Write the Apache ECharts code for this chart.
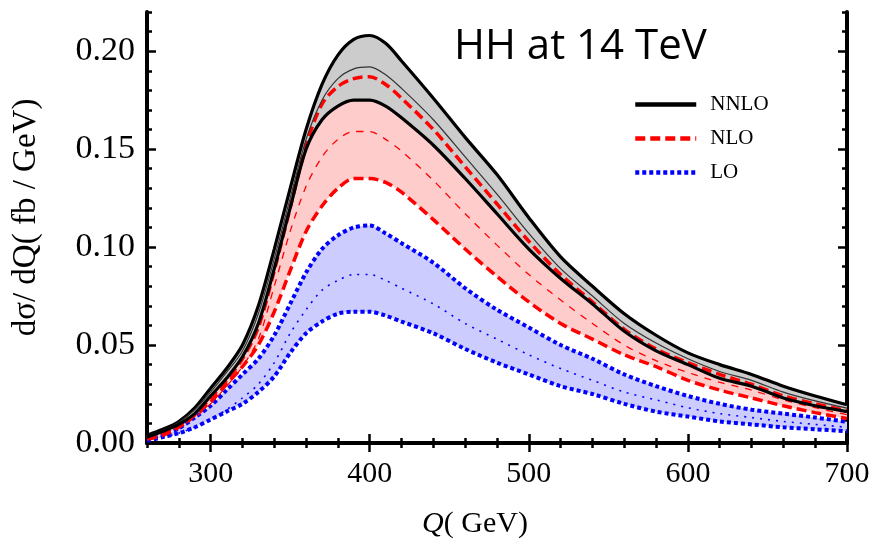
<!DOCTYPE html>
<html>
<head>
<meta charset="utf-8">
<script src="https://cdn.jsdelivr.net/npm/echarts@6/dist/echarts.min.js"></script>
<style>
  html, body { margin: 0; background: #fff; }
  #chart { width: 876px; height: 547px; }
</style>
</head>
<body>
<div id="chart"></div>
<script>
  // Q in GeV
  const qValues = [260, 270, 280, 290, 300, 310, 320, 330, 340, 350, 360, 370, 380, 390, 400, 410, 420,
    440, 460, 480, 500, 520, 540, 560, 580, 600, 620, 640, 660, 680, 700];

  // d sigma / dQ (fb/GeV)
  const nnloHi = [0.004, 0.007, 0.011, 0.018, 0.028, 0.038, 0.050, 0.070, 0.099, 0.130, 0.160, 0.183, 0.198, 0.206, 0.208, 0.204, 0.195,
    0.176, 0.156, 0.137, 0.115, 0.095, 0.080, 0.066, 0.055, 0.046, 0.040, 0.035, 0.029, 0.024, 0.0195];
  const nnloMid = [0.0035, 0.0065, 0.0105, 0.017, 0.026, 0.036, 0.047, 0.066, 0.094, 0.125, 0.155, 0.175, 0.186, 0.191, 0.192, 0.188, 0.181,
    0.165, 0.146, 0.127, 0.107, 0.089, 0.075, 0.061, 0.051, 0.043, 0.0365, 0.032, 0.026, 0.0215, 0.0178];
  const nnloLo = [0.003, 0.006, 0.0095, 0.015, 0.024, 0.033, 0.044, 0.061, 0.089, 0.120, 0.150, 0.165, 0.172, 0.175, 0.175, 0.172, 0.166,
    0.152, 0.135, 0.117, 0.099, 0.084, 0.071, 0.057, 0.047, 0.040, 0.033, 0.029, 0.023, 0.019, 0.016];

  const nloHi = [0.003, 0.0055, 0.009, 0.0145, 0.023, 0.032, 0.043, 0.059, 0.088, 0.120, 0.152, 0.173, 0.182, 0.186, 0.187, 0.183, 0.176,
    0.160, 0.141, 0.122, 0.103, 0.086, 0.072, 0.058, 0.048, 0.041, 0.035, 0.030, 0.024, 0.020, 0.0165];
  const nloMid = [0.0025, 0.005, 0.008, 0.013, 0.020, 0.029, 0.039, 0.053, 0.080, 0.108, 0.131, 0.146, 0.155, 0.159, 0.159, 0.155, 0.149,
    0.134, 0.117, 0.101, 0.086, 0.073, 0.061, 0.050, 0.042, 0.036, 0.031, 0.027, 0.022, 0.018, 0.0145];
  const nloLo = [0.002, 0.004, 0.008, 0.0143, 0.021, 0.030, 0.039, 0.050, 0.067, 0.088, 0.108, 0.121, 0.130, 0.135, 0.135, 0.133, 0.128,
    0.114, 0.099, 0.085, 0.072, 0.061, 0.053, 0.045, 0.039, 0.032, 0.027, 0.023, 0.019, 0.0155, 0.0125];

  const loHi = [0.002, 0.004, 0.0075, 0.013, 0.019, 0.027, 0.035, 0.043, 0.055, 0.071, 0.087, 0.099, 0.106, 0.110, 0.111, 0.107, 0.102,
    0.092, 0.079, 0.068, 0.059, 0.050, 0.043, 0.035, 0.029, 0.024, 0.020, 0.017, 0.015, 0.013, 0.0108];
  const loMid = [0.0015, 0.003, 0.005, 0.008, 0.012, 0.017, 0.023, 0.030, 0.041, 0.056, 0.068, 0.078, 0.083, 0.086, 0.086, 0.083, 0.079,
    0.071, 0.061, 0.053, 0.045, 0.038, 0.032, 0.026, 0.022, 0.018, 0.015, 0.013, 0.011, 0.0095, 0.008];
  const loLo = [0.001, 0.003, 0.005, 0.008, 0.012, 0.016, 0.020, 0.026, 0.034, 0.046, 0.056, 0.062, 0.066, 0.067, 0.067, 0.065, 0.062,
    0.056, 0.048, 0.041, 0.035, 0.029, 0.025, 0.020, 0.016, 0.0135, 0.011, 0.0095, 0.008, 0.007, 0.006];

  const xMajorTicks = [300, 400, 500, 600, 700];
  const yMajorTicks = [0, 0.05, 0.10, 0.15, 0.20];

  const serif = 'Liberation Serif';
  const SMOOTH = 0.3;

  function pairs(arr) {
    return qValues.map((q, i) => [q, arr[i]]);
  }

  // band = invisible lower series + stacked (hi - lo) with area fill.
  // value sits in the first column so that the stack runs along y, not x
  function band(id, lo, hi, color) {
    const common = {
      type: 'line', stack: id, symbol: 'none', smooth: SMOOTH, silent: true, z: 1,
      encode: { x: 1, y: 0 }, lineStyle: { opacity: 0 }
    };
    return [
      Object.assign({ name: id + '-base', data: qValues.map((q, i) => [lo[i], q]) }, common),
      Object.assign({
        name: id + '-band', data: qValues.map((q, i) => [hi[i] - lo[i], q]),
        areaStyle: { color: color, opacity: 1 }
      }, common)
    ];
  }

  function curve(name, arr, color, width, type, z) {
    return {
      name: name, type: 'line', data: pairs(arr), symbol: 'none', smooth: SMOOTH,
      lineStyle: { color: color, width: width, type: type, cap: 'butt' },
      itemStyle: { color: color }, z: z
    };
  }

  const tickStyle = { color: '#000', width: 2.5 };
  const frame = { lineStyle: { color: '#000', width: 4 } };

  function xAxisPair(position) {
    return [
      {
        type: 'value', position: position, min: 260, max: 700, interval: 20,
        axisLine: frame,
        axisTick: { inside: true, length: 5, lineStyle: tickStyle },
        axisLabel: position === 'bottom' ? {
          margin: 16, color: '#000', fontFamily: serif, fontSize: 30,
          formatter: v => (v % 100 === 0 ? String(v) : '')
        } : { show: false },
        splitLine: { show: false },
        name: position === 'bottom' ? '{q|Q}( GeV)' : '',
        nameLocation: 'middle', nameGap: 66,
        nameTextStyle: {
          color: '#000', fontFamily: serif, fontSize: 30, padding: [0, 44, 0, 0],
          rich: { q: { fontFamily: serif, fontSize: 30, fontStyle: 'italic', color: '#000' } }
        }
      },
      {
        type: 'value', position: position, min: 260, max: 700,
        axisLine: { show: false },
        axisTick: { inside: true, length: 9, customValues: xMajorTicks, lineStyle: tickStyle },
        axisLabel: { show: false },
        splitLine: { show: false }
      }
    ];
  }

  function yAxisPair(position) {
    return [
      {
        type: 'value', position: position, min: 0, max: 0.22, interval: 0.01,
        axisLine: frame,
        axisTick: { inside: true, length: 5, lineStyle: tickStyle },
        axisLabel: position === 'left' ? {
          margin: 12, color: '#000', fontFamily: serif, fontSize: 34,
          formatter: v => (Math.round(v * 100) % 5 === 0 && v < 0.215 ? v.toFixed(2) : '')
        } : { show: false },
        splitLine: { show: false },
        name: position === 'left' ? 'd\u03c3/ dQ( fb / GeV)' : '',
        nameLocation: 'middle', nameGap: 104,
        nameTextStyle: { color: '#000', fontFamily: serif, fontSize: 33, padding: [0, 0, 0, 20] }
      },
      {
        type: 'value', position: position, min: 0, max: 0.22,
        axisLine: { show: false },
        axisTick: { inside: true, length: 9, customValues: yMajorTicks, lineStyle: tickStyle },
        axisLabel: { show: false },
        splitLine: { show: false }
      }
    ];
  }

  const chart = echarts.init(document.getElementById('chart'));

  const option = {
    animation: false,
    backgroundColor: '#fff',
    grid: { left: 147, right: 29, top: 12, bottom: 104 },
    title: {
      text: 'HH at 14 TeV', left: 449, top: 21,
      textStyle: { fontFamily: 'Open Sans', fontSize: 42, fontWeight: 'normal', color: '#000' }
    },
    legend: {
      data: ['NNLO', 'NLO', 'LO'], orient: 'vertical', left: 633, top: 94, padding: 0,
      itemWidth: 61, itemHeight: 14, itemGap: 13,
      itemStyle: { opacity: 0 },
      lineStyle: { width: 4.5 },
      textStyle: { fontFamily: serif, fontSize: 21, color: '#000', padding: [0, 0, 0, 9] }
    },
    xAxis: [...xAxisPair('bottom'), ...xAxisPair('top')],
    yAxis: [...yAxisPair('left'), ...yAxisPair('right')],
    series: [
      ...band('lo', loLo, loHi, '#ccccff'),
      ...band('nlo', nloLo, nloHi, '#ffcccc'),
      ...band('nnlo', nnloLo, nnloHi, '#cccccc'),

      curve('LO', loHi, '#0000ff', 4, [4, 3], 3),
      curve('LO central', loMid, '#0000ff', 1.6, [2, 6], 3),
      curve('LO', loLo, '#0000ff', 4, [4, 3], 3),

      curve('NLO', nloHi, '#ff0000', 3.5, [10, 5], 4),
      curve('NLO central', nloMid, '#ff0000', 1.3, [7, 7], 4),
      curve('NLO', nloLo, '#ff0000', 3.5, [10, 5], 4),

      curve('NNLO', nnloHi, '#000000', 3.2, 'solid', 5),
      curve('NNLO central', nnloMid, '#333333', 1.2, 'solid', 5),
      curve('NNLO', nnloLo, '#000000', 3.2, 'solid', 5)
    ]
  };

  chart.setOption(option);
</script>
</body>
</html>
